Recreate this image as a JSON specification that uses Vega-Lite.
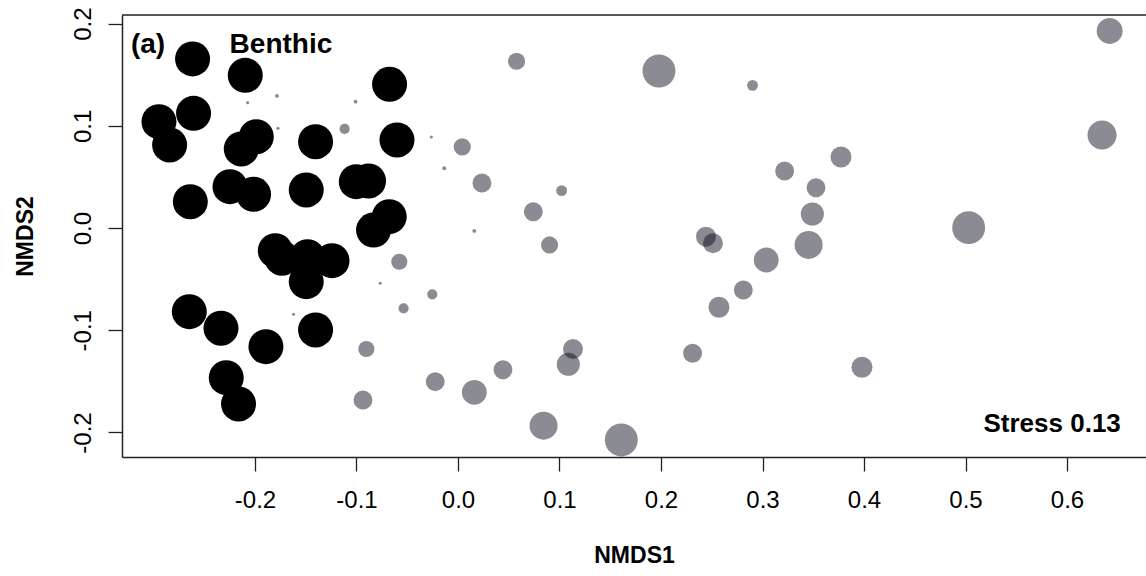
{
  "$schema": "https://vega.github.io/schema/vega-lite/v6.json",
  "width": 1024,
  "height": 442,
  "autosize": {"type": "none"},
  "padding": {"left": 122, "top": 15, "right": 0, "bottom": 119},
  "background": "white",
  "config": {
    "view": {"stroke": null},
    "font": "Liberation Sans"
  },
  "datasets": {
    "sites": [
      {"NMDS1": -0.2615, "NMDS2": 0.1655, "group": "Benthic", "abund": 1},
      {"NMDS1": -0.2096, "NMDS2": 0.1495, "group": "Benthic", "abund": 1},
      {"NMDS1": -0.0674, "NMDS2": 0.1407, "group": "Benthic", "abund": 1},
      {"NMDS1": -0.2946, "NMDS2": 0.1041, "group": "Benthic", "abund": 1},
      {"NMDS1": -0.2605, "NMDS2": 0.1123, "group": "Benthic", "abund": 1},
      {"NMDS1": -0.2841, "NMDS2": 0.0813, "group": "Benthic", "abund": 1},
      {"NMDS1": -0.1987, "NMDS2": 0.0894, "group": "Benthic", "abund": 1},
      {"NMDS1": -0.2135, "NMDS2": 0.0774, "group": "Benthic", "abund": 1},
      {"NMDS1": -0.1403, "NMDS2": 0.0845, "group": "Benthic", "abund": 1},
      {"NMDS1": -0.0601, "NMDS2": 0.0862, "group": "Benthic", "abund": 1},
      {"NMDS1": -0.2246, "NMDS2": 0.0405, "group": "Benthic", "abund": 1},
      {"NMDS1": -0.2014, "NMDS2": 0.0331, "group": "Benthic", "abund": 1},
      {"NMDS1": -0.2637, "NMDS2": 0.0258, "group": "Benthic", "abund": 1},
      {"NMDS1": -0.1495, "NMDS2": 0.0373, "group": "Benthic", "abund": 1},
      {"NMDS1": -0.1002, "NMDS2": 0.0454, "group": "Benthic", "abund": 1},
      {"NMDS1": -0.0881, "NMDS2": 0.0461, "group": "Benthic", "abund": 1},
      {"NMDS1": -0.0677, "NMDS2": 0.0112, "group": "Benthic", "abund": 1},
      {"NMDS1": -0.0832, "NMDS2": -0.0019, "group": "Benthic", "abund": 1},
      {"NMDS1": -0.1800, "NMDS2": -0.0221, "group": "Benthic", "abund": 1},
      {"NMDS1": -0.1734, "NMDS2": -0.0295, "group": "Benthic", "abund": 1},
      {"NMDS1": -0.1482, "NMDS2": -0.0280, "group": "Benthic", "abund": 1},
      {"NMDS1": -0.1241, "NMDS2": -0.0319, "group": "Benthic", "abund": 1},
      {"NMDS1": -0.1495, "NMDS2": -0.0524, "group": "Benthic", "abund": 1},
      {"NMDS1": -0.2647, "NMDS2": -0.0818, "group": "Benthic", "abund": 1},
      {"NMDS1": -0.2335, "NMDS2": -0.0980, "group": "Benthic", "abund": 1},
      {"NMDS1": -0.1892, "NMDS2": -0.1160, "group": "Benthic", "abund": 1},
      {"NMDS1": -0.1403, "NMDS2": -0.0997, "group": "Benthic", "abund": 1},
      {"NMDS1": -0.2283, "NMDS2": -0.1464, "group": "Benthic", "abund": 1},
      {"NMDS1": -0.2162, "NMDS2": -0.1721, "group": "Benthic", "abund": 1},
      {"NMDS1": -0.2073, "NMDS2": 0.1227, "group": "Other", "abund": 0.09},
      {"NMDS1": -0.1783, "NMDS2": 0.1293, "group": "Other", "abund": 0.11},
      {"NMDS1": -0.1009, "NMDS2": 0.1237, "group": "Other", "abund": 0.11},
      {"NMDS1": -0.1773, "NMDS2": 0.0977, "group": "Other", "abund": 0.09},
      {"NMDS1": -0.0263, "NMDS2": 0.0891, "group": "Other", "abund": 0.09},
      {"NMDS1": -0.0135, "NMDS2": 0.0585, "group": "Other", "abund": 0.11},
      {"NMDS1": -0.0766, "NMDS2": -0.0540, "group": "Other", "abund": 0.09},
      {"NMDS1": -0.1620, "NMDS2": -0.0843, "group": "Other", "abund": 0.09},
      {"NMDS1": 0.0161, "NMDS2": -0.0028, "group": "Other", "abund": 0.11},
      {"NMDS1": -0.1117, "NMDS2": 0.0970, "group": "Other", "abund": 0.29},
      {"NMDS1": -0.0578, "NMDS2": -0.0329, "group": "Other", "abund": 0.46},
      {"NMDS1": -0.0253, "NMDS2": -0.0648, "group": "Other", "abund": 0.29},
      {"NMDS1": -0.0536, "NMDS2": -0.0785, "group": "Other", "abund": 0.29},
      {"NMDS1": -0.0903, "NMDS2": -0.1183, "group": "Other", "abund": 0.46},
      {"NMDS1": -0.0224, "NMDS2": -0.1503, "group": "Other", "abund": 0.54},
      {"NMDS1": -0.0936, "NMDS2": -0.1682, "group": "Other", "abund": 0.54},
      {"NMDS1": 0.0577, "NMDS2": 0.1632, "group": "Other", "abund": 0.49},
      {"NMDS1": 0.1980, "NMDS2": 0.1537, "group": "Other", "abund": 0.94},
      {"NMDS1": 0.2902, "NMDS2": 0.1397, "group": "Other", "abund": 0.31},
      {"NMDS1": 0.0042, "NMDS2": 0.0794, "group": "Other", "abund": 0.49},
      {"NMDS1": 0.0236, "NMDS2": 0.0441, "group": "Other", "abund": 0.54},
      {"NMDS1": 0.1021, "NMDS2": 0.0366, "group": "Other", "abund": 0.31},
      {"NMDS1": 0.0742, "NMDS2": 0.0160, "group": "Other", "abund": 0.54},
      {"NMDS1": 0.3773, "NMDS2": 0.0696, "group": "Other", "abund": 0.6},
      {"NMDS1": 0.3218, "NMDS2": 0.0559, "group": "Other", "abund": 0.54},
      {"NMDS1": 0.3527, "NMDS2": 0.0395, "group": "Other", "abund": 0.54},
      {"NMDS1": 0.3491, "NMDS2": 0.0138, "group": "Other", "abund": 0.66},
      {"NMDS1": 0.3454, "NMDS2": -0.0165, "group": "Other", "abund": 0.8},
      {"NMDS1": 0.2443, "NMDS2": -0.0084, "group": "Other", "abund": 0.57},
      {"NMDS1": 0.2512, "NMDS2": -0.0149, "group": "Other", "abund": 0.57},
      {"NMDS1": 0.0902, "NMDS2": -0.0165, "group": "Other", "abund": 0.49},
      {"NMDS1": 0.3037, "NMDS2": -0.0312, "group": "Other", "abund": 0.71},
      {"NMDS1": 0.2811, "NMDS2": -0.0606, "group": "Other", "abund": 0.54},
      {"NMDS1": 0.2571, "NMDS2": -0.0775, "group": "Other", "abund": 0.6},
      {"NMDS1": 0.2311, "NMDS2": -0.1225, "group": "Other", "abund": 0.54},
      {"NMDS1": 0.3980, "NMDS2": -0.1362, "group": "Other", "abund": 0.6},
      {"NMDS1": 0.1133, "NMDS2": -0.1183, "group": "Other", "abund": 0.57},
      {"NMDS1": 0.1087, "NMDS2": -0.1333, "group": "Other", "abund": 0.66},
      {"NMDS1": 0.0443, "NMDS2": -0.1386, "group": "Other", "abund": 0.54},
      {"NMDS1": 0.0161, "NMDS2": -0.1607, "group": "Other", "abund": 0.71},
      {"NMDS1": 0.0843, "NMDS2": -0.1933, "group": "Other", "abund": 0.8},
      {"NMDS1": 0.1609, "NMDS2": -0.2073, "group": "Other", "abund": 0.94},
      {"NMDS1": 0.6420, "NMDS2": 0.1929, "group": "Other", "abund": 0.74},
      {"NMDS1": 0.6345, "NMDS2": 0.0911, "group": "Other", "abund": 0.83},
      {"NMDS1": 0.5031, "NMDS2": 0.0004, "group": "Other", "abund": 0.94}
    ]
  },
  "encoding": {
    "x": {
      "field": "NMDS1",
      "type": "quantitative",
      "scale": {"domain": [-0.331, 0.6778], "zero": false, "nice": false},
      "axis": {
        "orient": "bottom",
        "values": [-0.2, -0.1, 0, 0.1, 0.2, 0.3, 0.4, 0.5, 0.6],
        "labelExpr": "replace(format(datum.value, '.1f'), '\u2212', '-')",
        "grid": false,
        "domain": true,
        "domainColor": "#222222",
        "domainWidth": 1.5,
        "ticks": true,
        "tickSize": 14,
        "tickColor": "#222222",
        "tickWidth": 1.3,
        "labelFont": "Liberation Sans",
        "labelFontSize": 24,
        "labelColor": "#000000",
        "labelPadding": 17,
        "labelBaseline": "top",
        "labelFlush": false,
        "labelOverlap": false,
        "title": "NMDS1",
        "titleFont": "Liberation Sans",
        "titleFontWeight": "bold",
        "titleFontSize": 23,
        "titleColor": "#000000",
        "titleBaseline": "alphabetic",
        "titleY": 105
      }
    },
    "y": {
      "field": "NMDS2",
      "type": "quantitative",
      "scale": {"domain": [-0.224, 0.2085], "zero": false, "nice": false},
      "axis": {
        "orient": "left",
        "values": [-0.2, -0.1, 0, 0.1, 0.2],
        "labelExpr": "replace(format(datum.value, '.1f'), '\u2212', '-')",
        "grid": false,
        "domain": true,
        "domainColor": "#222222",
        "domainWidth": 1.5,
        "ticks": true,
        "tickSize": 14,
        "tickColor": "#222222",
        "tickWidth": 1.3,
        "labelFont": "Liberation Sans",
        "labelFontSize": 24,
        "labelColor": "#000000",
        "labelAngle": 270,
        "labelAlign": "center",
        "labelBaseline": "alphabetic",
        "labelPadding": 18,
        "labelFlush": false,
        "labelOverlap": false,
        "title": "NMDS2",
        "titleFont": "Liberation Sans",
        "titleFontWeight": "bold",
        "titleFontSize": 23,
        "titleColor": "#000000",
        "titleAngle": 270,
        "titleAlign": "center",
        "titleBaseline": "alphabetic",
        "titleX": -90,
        "titleY": 221
      }
    }
  },
  "layer": [
    {
      "data": {"values": [{"NMDS1": -0.331, "NMDS1_end": 0.6778, "NMDS2": 0.2085}]},
      "mark": {"type": "rule", "color": "#222222", "strokeWidth": 1.5},
      "encoding": {
        "x2": {"field": "NMDS1_end"}
      }
    },
    {
      "data": {"name": "sites"},
      "mark": {"type": "circle", "strokeWidth": 0},
      "encoding": {
        "color": {
          "field": "group",
          "type": "nominal",
          "scale": {"domain": ["Benthic", "Other"], "range": ["#000000", "#08081a"]},
          "legend": null
        },
        "opacity": {
          "field": "group",
          "type": "nominal",
          "scale": {"domain": ["Benthic", "Other"], "range": [1, 0.47]},
          "legend": null
        },
        "size": {
          "field": "abund",
          "type": "quantitative",
          "scale": {"type": "pow", "exponent": 2, "domain": [0, 1], "range": [0, 1225]},
          "legend": null
        }
      }
    },
    {
      "data": {"values": [{"NMDS1": -0.3222, "NMDS2": 0.171}]},
      "mark": {"type": "text", "text": "(a)", "align": "left", "baseline": "alphabetic", "font": "Liberation Sans", "fontWeight": "bold", "fontSize": 28, "color": "#000000"}
    },
    {
      "data": {"values": [{"NMDS1": -0.225, "NMDS2": 0.171}]},
      "mark": {"type": "text", "text": "Benthic", "align": "left", "baseline": "alphabetic", "font": "Liberation Sans", "fontWeight": "bold", "fontSize": 28, "color": "#000000"}
    },
    {
      "data": {"values": [{"NMDS1": 0.653, "NMDS2": -0.1992}]},
      "mark": {"type": "text", "text": "Stress 0.13", "align": "right", "baseline": "alphabetic", "font": "Liberation Sans", "fontWeight": "bold", "fontSize": 26, "color": "#000000"}
    }
  ]
}
